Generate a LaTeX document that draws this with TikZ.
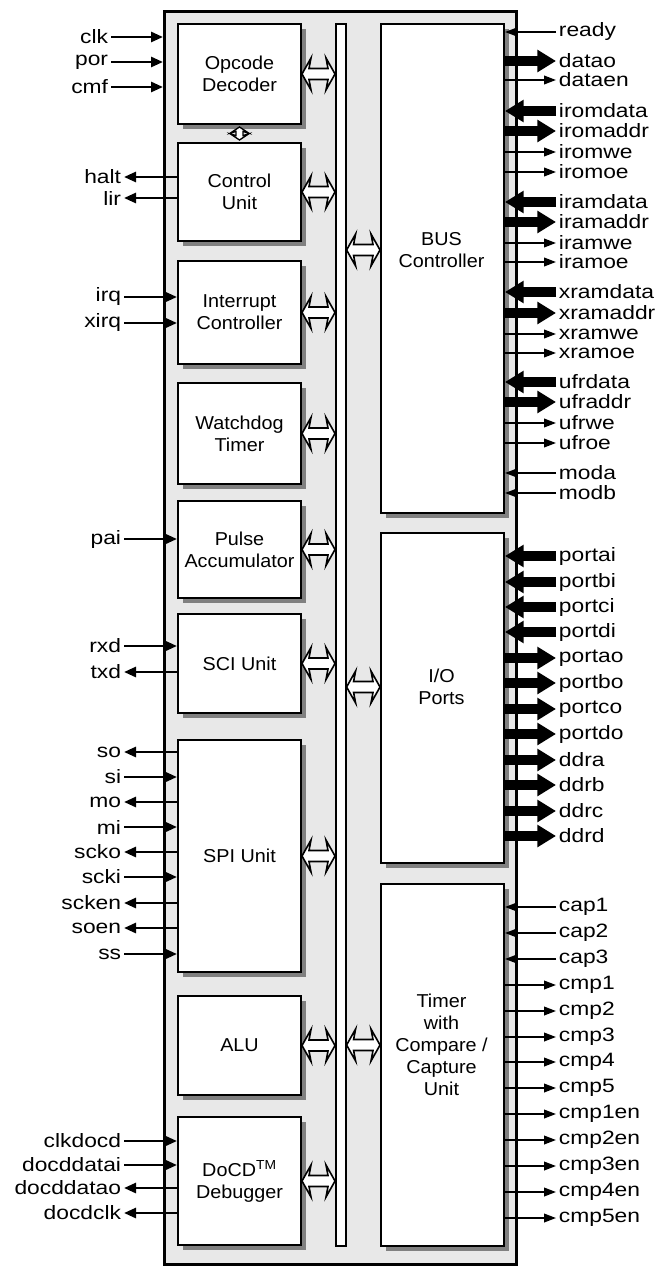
\documentclass[tikz,border=0pt]{standalone}
\usepackage{fontspec}
\setmainfont{Liberation Sans}[FakeStretch=1.06]
\newfontfamily\sigfont{Liberation Sans}[FakeStretch=1.18]
\usetikzlibrary{arrows.meta, calc, shadows}

% hollow double arrow between a unit and the internal bus
\newcommand{\busarrow}[2]{\draw[hollow] (#1) -- ($(#1)+(9,-16)$) -- ($(#1)+(7,-5.5)$) -- ($(#2)+(-7,-5.5)$) -- ($(#2)+(-9,-16)$) -- (#2) -- ($(#2)+(-9,16)$) -- ($(#2)+(-7,5.5)$) -- ($(#1)+(7,5.5)$) -- ($(#1)+(9,16)$) -- cycle;}
\newcommand{\vbusarrow}[2]{\draw[hollow, line width=1pt] (#1) -- ($(#1)+(9,6)$) -- ($(#1)+(3.5,4.5)$) -- ($(#2)+(3.5,-4.5)$) -- ($(#2)+(9,-6)$) -- (#2) -- ($(#2)+(-9,-6)$) -- ($(#2)+(-3.5,-4.5)$) -- ($(#1)+(-3.5,4.5)$) -- ($(#1)+(-9,6)$) -- cycle;}

\begin{document}
\begin{tikzpicture}[x=0.75pt, y=-0.75pt,
    block/.style={rectangle, draw, line width=1.5pt, fill=white, anchor=north west, minimum width=92.25pt, inner sep=0pt, align=center, font=\fontsize{14pt}{16.5pt}\selectfont, drop shadow={shadow xshift=3.5pt, shadow yshift=-3.5pt, fill=black!50, opacity=1}},
    blocktext/.style={align=center, font=\fontsize{14pt}{16.5pt}\selectfont},
    sig/.style={font=\sigfont\fontsize{14.5pt}{16pt}\selectfont, inner sep=2pt},
    lsig/.style={sig, anchor=east},
    rsig/.style={sig, anchor=west},
    lin/.style={line width=2pt, -{Triangle[length=9pt, width=7.5pt]}},
    lout/.style={line width=2pt, {Triangle[length=9pt, width=7.5pt]}-},
    rin/.style={line width=1.3pt, -{Triangle[length=9pt, width=6.5pt]}},
    rout/.style={line width=1.3pt, {Triangle[length=9pt, width=6.5pt]}-},
    bin/.style={line width=7.5pt, -{Triangle[length=14pt, width=16pt]}},
    bout/.style={line width=7.5pt, {Triangle[length=14pt, width=16pt]}-},
    hollow/.style={draw, fill=white, line width=1.2pt, line join=miter}
  ]
  \useasboundingbox (0,0) rectangle (670,1266);

  % core frame and internal bus
  \node[draw, fill=black!9, line width=2pt, anchor=north west, minimum width=264pt, minimum height=939.75pt, inner sep=0pt] (core) at (163,10) {};
  \node[draw, fill=white, line width=1.2pt, anchor=north west, minimum width=7.5pt, minimum height=916.5pt, inner sep=0pt] (bus) at (335,23) {};

  % left units
  \node[block, minimum height=75pt] (opc) at (177,23) {Opcode\\Decoder};
  \node[block, minimum height=73.5pt] (ctl) at (177,142) {Control\\Unit};
  \node[block, minimum height=77.25pt] (intc) at (177,260) {Interrupt\\Controller};
  \node[block, minimum height=75.75pt] (wdt) at (177,382) {Watchdog\\Timer};
  \node[block, minimum height=72.75pt] (pacc) at (177,500) {Pulse\\Accumulator};
  \node[block, minimum height=74.25pt] (sci) at (177,613) {SCI Unit};
  \node[block, minimum height=174pt] (spi) at (177,739) {SPI Unit};
  \node[block, minimum height=74.25pt] (alu) at (177,995) {ALU};
  \node[block, minimum height=96pt] (docd) at (177,1116) {DoCD\textsuperscript{TM}\\Debugger};

  % right units
  \node[block, minimum height=366.75pt] (busc) at (380,23) {};
  \node[block, minimum height=247.5pt] (iop) at (380,532) {};
  \node[block, minimum height=271.5pt] (tmr) at (380,883) {};
  \node[blocktext] (busctext) at (441.5,250) {BUS\\Controller};
  \node[blocktext] (ioptext) at (441.5,687) {I/O\\Ports};
  \node[blocktext] (tmrtext) at (441.5,1045) {Timer\\with\\Compare /\\Capture\\Unit};

  % bus connections
  \vbusarrow{$(opc.south)+(0,2)$}{$(ctl.north)+(0,-2)$}
  \busarrow{opc.east}{opc.east -| bus.west}
  \busarrow{ctl.east}{ctl.east -| bus.west}
  \busarrow{intc.east}{intc.east -| bus.west}
  \busarrow{wdt.east}{wdt.east -| bus.west}
  \busarrow{pacc.east}{pacc.east -| bus.west}
  \busarrow{sci.east}{sci.east -| bus.west}
  \busarrow{spi.east}{spi.east -| bus.west}
  \busarrow{alu.east}{alu.east -| bus.west}
  \busarrow{docd.east}{docd.east -| bus.west}
  \busarrow{bus.east |- busctext}{busc.west |- busctext}
  \busarrow{bus.east |- ioptext}{iop.west |- ioptext}
  \busarrow{bus.east |- tmrtext}{tmr.west |- tmrtext}

  % left pins
  \node[lsig] (clk) at (111,37) {clk}; \draw[lin] (clk) -- (clk -| core.west);
  \node[lsig] (por) at (111,62) {por}; \draw[lin] (por) -- (por -| core.west);
  \node[lsig] (cmf) at (111,87) {cmf}; \draw[lin] (cmf) -- (cmf -| core.west);
  \node[lsig] (halt) at (124,177) {halt}; \draw[lout] (halt) -- (halt -| ctl.west);
  \node[lsig] (lir) at (124,198) {lir}; \draw[lout] (lir) -- (lir -| ctl.west);
  \node[lsig] (irq) at (124,297) {irq}; \draw[lin] (irq) -- (irq -| intc.west);
  \node[lsig] (xirq) at (124,323) {xirq}; \draw[lin] (xirq) -- (xirq -| intc.west);
  \node[lsig] (pai) at (124,539) {pai}; \draw[lin] (pai) -- (pai -| pacc.west);
  \node[lsig] (rxd) at (124,646) {rxd}; \draw[lin] (rxd) -- (rxd -| sci.west);
  \node[lsig] (txd) at (124,672) {txd}; \draw[lout] (txd) -- (txd -| sci.west);
  \node[lsig] (so) at (124,752) {so}; \draw[lout] (so) -- (so -| spi.west);
  \node[lsig] (si) at (124,777) {si}; \draw[lin] (si) -- (si -| spi.west);
  \node[lsig] (mo) at (124,802) {mo}; \draw[lout] (mo) -- (mo -| spi.west);
  \node[lsig] (mi) at (124,827) {mi}; \draw[lin] (mi) -- (mi -| spi.west);
  \node[lsig] (scko) at (124,852) {scko}; \draw[lout] (scko) -- (scko -| spi.west);
  \node[lsig] (scki) at (124,877) {scki}; \draw[lin] (scki) -- (scki -| spi.west);
  \node[lsig] (scken) at (124,903) {scken}; \draw[lout] (scken) -- (scken -| spi.west);
  \node[lsig] (soen) at (124,928) {soen}; \draw[lout] (soen) -- (soen -| spi.west);
  \node[lsig] (ss) at (124,954) {ss}; \draw[lin] (ss) -- (ss -| spi.west);
  \node[lsig] (clkdocd) at (124,1141) {clkdocd}; \draw[lin] (clkdocd) -- (clkdocd -| docd.west);
  \node[lsig] (docddatai) at (124,1165) {docddatai}; \draw[lin] (docddatai) -- (docddatai -| docd.west);
  \node[lsig] (docddatao) at (124,1188) {docddatao}; \draw[lout] (docddatao) -- (docddatao -| docd.west);
  \node[lsig] (docdclk) at (124,1213) {docdclk}; \draw[lout] (docdclk) -- (docdclk -| docd.west);

  % right pins: bus controller
  \node[rsig] (ready) at (556,32) {ready}; \draw[rin] (ready) -- (ready -| busc.east);
  \node[rsig] (datao) at (556,61) {datao}; \draw[bout] (datao) -- (datao -| busc.east);
  \node[rsig] (dataen) at (556,80) {dataen}; \draw[rout] (dataen) -- (dataen -| busc.east);
  \node[rsig] (iromdata) at (556,111) {iromdata}; \draw[bin] (iromdata) -- (iromdata -| busc.east);
  \node[rsig] (iromaddr) at (556,131) {iromaddr}; \draw[bout] (iromaddr) -- (iromaddr -| busc.east);
  \node[rsig] (iromwe) at (556,152) {iromwe}; \draw[rout] (iromwe) -- (iromwe -| busc.east);
  \node[rsig] (iromoe) at (556,172) {iromoe}; \draw[rout] (iromoe) -- (iromoe -| busc.east);
  \node[rsig] (iramdata) at (556,202) {iramdata}; \draw[bin] (iramdata) -- (iramdata -| busc.east);
  \node[rsig] (iramaddr) at (556,222) {iramaddr}; \draw[bout] (iramaddr) -- (iramaddr -| busc.east);
  \node[rsig] (iramwe) at (556,243) {iramwe}; \draw[rout] (iramwe) -- (iramwe -| busc.east);
  \node[rsig] (iramoe) at (556,262) {iramoe}; \draw[rout] (iramoe) -- (iramoe -| busc.east);
  \node[rsig] (xramdata) at (556,292) {xramdata}; \draw[bin] (xramdata) -- (xramdata -| busc.east);
  \node[rsig] (xramaddr) at (556,313) {xramaddr}; \draw[bout] (xramaddr) -- (xramaddr -| busc.east);
  \node[rsig] (xramwe) at (556,334) {xramwe}; \draw[rout] (xramwe) -- (xramwe -| busc.east);
  \node[rsig] (xramoe) at (556,353) {xramoe}; \draw[rout] (xramoe) -- (xramoe -| busc.east);
  \node[rsig] (ufrdata) at (556,382) {ufrdata}; \draw[bin] (ufrdata) -- (ufrdata -| busc.east);
  \node[rsig] (ufraddr) at (556,402) {ufraddr}; \draw[bout] (ufraddr) -- (ufraddr -| busc.east);
  \node[rsig] (ufrwe) at (556,423) {ufrwe}; \draw[rout] (ufrwe) -- (ufrwe -| busc.east);
  \node[rsig] (ufroe) at (556,443) {ufroe}; \draw[rout] (ufroe) -- (ufroe -| busc.east);
  \node[rsig] (moda) at (556,473) {moda}; \draw[rin] (moda) -- (moda -| busc.east);
  \node[rsig] (modb) at (556,493) {modb}; \draw[rin] (modb) -- (modb -| busc.east);

  % right pins: i/o ports
  \node[rsig] (portai) at (556,556) {portai}; \draw[bin] (portai) -- (portai -| iop.east);
  \node[rsig] (portbi) at (556,582) {portbi}; \draw[bin] (portbi) -- (portbi -| iop.east);
  \node[rsig] (portci) at (556,607) {portci}; \draw[bin] (portci) -- (portci -| iop.east);
  \node[rsig] (portdi) at (556,632) {portdi}; \draw[bin] (portdi) -- (portdi -| iop.east);
  \node[rsig] (portao) at (556,658) {portao}; \draw[bout] (portao) -- (portao -| iop.east);
  \node[rsig] (portbo) at (556,683) {portbo}; \draw[bout] (portbo) -- (portbo -| iop.east);
  \node[rsig] (portco) at (556,709) {portco}; \draw[bout] (portco) -- (portco -| iop.east);
  \node[rsig] (portdo) at (556,734) {portdo}; \draw[bout] (portdo) -- (portdo -| iop.east);
  \node[rsig] (ddra) at (556,760) {ddra}; \draw[bout] (ddra) -- (ddra -| iop.east);
  \node[rsig] (ddrb) at (556,785) {ddrb}; \draw[bout] (ddrb) -- (ddrb -| iop.east);
  \node[rsig] (ddrc) at (556,811) {ddrc}; \draw[bout] (ddrc) -- (ddrc -| iop.east);
  \node[rsig] (ddrd) at (556,836) {ddrd}; \draw[bout] (ddrd) -- (ddrd -| iop.east);

  % right pins: timer
  \node[rsig] (cap1) at (556,907) {cap1}; \draw[rin] (cap1) -- (cap1 -| tmr.east);
  \node[rsig] (cap2) at (556,933) {cap2}; \draw[rin] (cap2) -- (cap2 -| tmr.east);
  \node[rsig] (cap3) at (556,959) {cap3}; \draw[rin] (cap3) -- (cap3 -| tmr.east);
  \node[rsig] (cmp1) at (556,985) {cmp1}; \draw[rout] (cmp1) -- (cmp1 -| tmr.east);
  \node[rsig] (cmp2) at (556,1011) {cmp2}; \draw[rout] (cmp2) -- (cmp2 -| tmr.east);
  \node[rsig] (cmp3) at (556,1037) {cmp3}; \draw[rout] (cmp3) -- (cmp3 -| tmr.east);
  \node[rsig] (cmp4) at (556,1062) {cmp4}; \draw[rout] (cmp4) -- (cmp4 -| tmr.east);
  \node[rsig] (cmp5) at (556,1088) {cmp5}; \draw[rout] (cmp5) -- (cmp5 -| tmr.east);
  \node[rsig] (cmp1en) at (556,1114) {cmp1en}; \draw[rout] (cmp1en) -- (cmp1en -| tmr.east);
  \node[rsig] (cmp2en) at (556,1140) {cmp2en}; \draw[rout] (cmp2en) -- (cmp2en -| tmr.east);
  \node[rsig] (cmp3en) at (556,1166) {cmp3en}; \draw[rout] (cmp3en) -- (cmp3en -| tmr.east);
  \node[rsig] (cmp4en) at (556,1192) {cmp4en}; \draw[rout] (cmp4en) -- (cmp4en -| tmr.east);
  \node[rsig] (cmp5en) at (556,1218) {cmp5en}; \draw[rout] (cmp5en) -- (cmp5en -| tmr.east);
\end{tikzpicture}
\end{document}
